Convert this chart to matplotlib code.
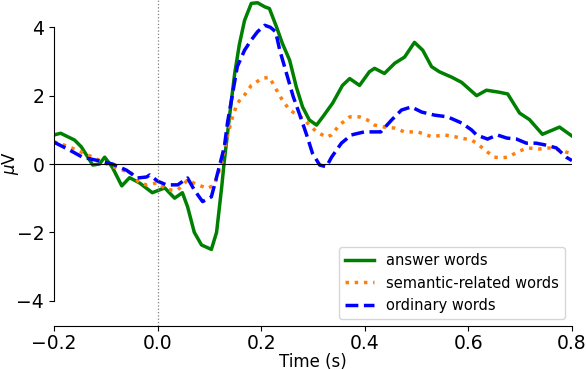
import matplotlib
matplotlib.use("Agg")
import matplotlib.pyplot as plt

# time (s) and amplitude (uV)
answer_t = [-0.200, -0.187, -0.160, -0.147, -0.125, -0.112, -0.102, -0.087, -0.069,
            -0.054, -0.035, -0.010, 0.000, 0.014, 0.033, 0.048, 0.058, 0.071, 0.085,
            0.104, 0.114, 0.124, 0.129, 0.139, 0.149, 0.158, 0.168, 0.181, 0.193,
            0.207, 0.216, 0.230, 0.241, 0.255, 0.268, 0.280, 0.293, 0.307, 0.319,
            0.338, 0.357, 0.371, 0.390, 0.409, 0.419, 0.438, 0.458, 0.477, 0.496,
            0.512, 0.529, 0.544, 0.568, 0.587, 0.616, 0.635, 0.660, 0.676, 0.699,
            0.718, 0.743, 0.776, 0.800]
answer_v = [0.85, 0.90, 0.70, 0.50, -0.03, 0.00, 0.20, -0.10, -0.64,
            -0.40, -0.55, -0.84, -0.78, -0.70, -1.00, -0.84, -1.25, -2.00, -2.37,
            -2.50, -2.00, -0.66, 0.10, 1.40, 2.65, 3.50, 4.20, 4.70, 4.72,
            4.60, 4.55, 4.00, 3.53, 3.04, 2.25, 1.67, 1.29, 1.14, 1.38,
            1.78, 2.30, 2.50, 2.30, 2.70, 2.80, 2.65, 2.95, 3.13, 3.56,
            3.33, 2.85, 2.70, 2.54, 2.39, 2.00, 2.16, 2.10, 2.05, 1.49,
            1.30, 0.87, 1.08, 0.82]

semantic_t = [-0.200, -0.170, -0.125, -0.089, -0.050, -0.035, -0.021, 0.000, 0.019,
              0.039, 0.058, 0.077, 0.097, 0.110, 0.124, 0.133, 0.143, 0.154, 0.168,
              0.181, 0.201, 0.216, 0.230, 0.241, 0.255, 0.280, 0.307, 0.326, 0.336,
              0.351, 0.371, 0.390, 0.405, 0.419, 0.438, 0.458, 0.477, 0.502, 0.529,
              0.554, 0.573, 0.606, 0.616, 0.637, 0.650, 0.664, 0.676, 0.699, 0.714,
              0.737, 0.757, 0.776, 0.795, 0.800]
semantic_v = [0.65, 0.50, 0.20, -0.06, -0.27, -0.56, -0.61, -0.55, -0.76,
              -0.76, -0.47, -0.61, -0.71, -0.61, 0.03, 0.70, 1.29, 1.78, 2.02,
              2.30, 2.50, 2.54, 2.16, 1.87, 1.58, 1.34, 0.94, 0.79, 0.85,
              1.14, 1.38, 1.38, 1.29, 1.14, 1.08, 1.05, 0.94, 0.94, 0.80,
              0.85, 0.80, 0.70, 0.61, 0.35, 0.20, 0.18, 0.20, 0.38, 0.47,
              0.44, 0.47, 0.41, 0.32, 0.30]

ordinary_t = [-0.200, -0.170, -0.145, -0.112, -0.087, -0.060, -0.039, -0.021, -0.015,
              0.000, 0.017, 0.039, 0.058, 0.071, 0.087, 0.104, 0.116, 0.129, 0.135,
              0.145, 0.154, 0.168, 0.181, 0.193, 0.207, 0.218, 0.228, 0.236, 0.249,
              0.262, 0.276, 0.289, 0.299, 0.313, 0.326, 0.336, 0.355, 0.374, 0.399,
              0.431, 0.452, 0.471, 0.490, 0.510, 0.535, 0.560, 0.587, 0.606, 0.616,
              0.637, 0.656, 0.674, 0.693, 0.712, 0.731, 0.751, 0.770, 0.789, 0.800]
ordinary_v = [0.64, 0.41, 0.20, 0.09, 0.00, -0.18, -0.41, -0.38, -0.32,
              -0.50, -0.61, -0.61, -0.41, -0.76, -1.10, -0.96, -0.27, 0.50, 1.20,
              2.07, 2.85, 3.33, 3.63, 3.87, 4.06, 4.00, 3.87, 3.33, 2.65,
              1.97, 1.38, 0.80, 0.32, -0.03, -0.08, 0.20, 0.61, 0.85, 0.94,
              0.94, 1.29, 1.58, 1.67, 1.52, 1.43, 1.38, 1.20, 1.00, 0.85,
              0.73, 0.85, 0.76, 0.73, 0.61, 0.61, 0.55, 0.47, 0.20, 0.10]

labels = ["answer words", "semantic-related words", "ordinary words"]
colors = ["green", "tab:orange", "blue"]
styles = ["-", ":", "--"]

fig = plt.figure(figsize=(5.86, 3.70), dpi=100)
ax = fig.add_axes([0.092, 0.119, 0.884, 0.881])

series = [(answer_t, answer_v), (semantic_t, semantic_v), (ordinary_t, ordinary_v)]
for (t, v), lab, c, ls in zip(series, labels, colors, styles):
    ax.plot(t, v, color=c, linestyle=ls, linewidth=2.5, label=lab)

ax.axhline(0, color="black", linewidth=0.8)
ax.axvline(0, color="gray", linestyle=":", linewidth=0.9)

ax.set_xlim(-0.2, 0.8)
ax.set_ylim(-4.74, 4.8)
ax.set_xticks([-0.2, 0.0, 0.2, 0.4, 0.6, 0.8])
ax.set_yticks([-4, -2, 0, 2, 4])
ax.tick_params(labelsize=13.5)
ax.tick_params(axis="x", pad=2)

ax.spines["top"].set_visible(False)
ax.spines["right"].set_visible(False)
ax.spines["left"].set_bounds(-4, 4)
ax.spines["bottom"].set_bounds(-0.2, 0.8)

ax.set_xlabel("Time (s)", fontsize=12, labelpad=0)
ax.set_ylabel(r"$\mu$V", fontsize=12, labelpad=-3)
ax.legend(loc="lower right", fontsize=10.5)

fig.savefig("out.png", dpi=100)
